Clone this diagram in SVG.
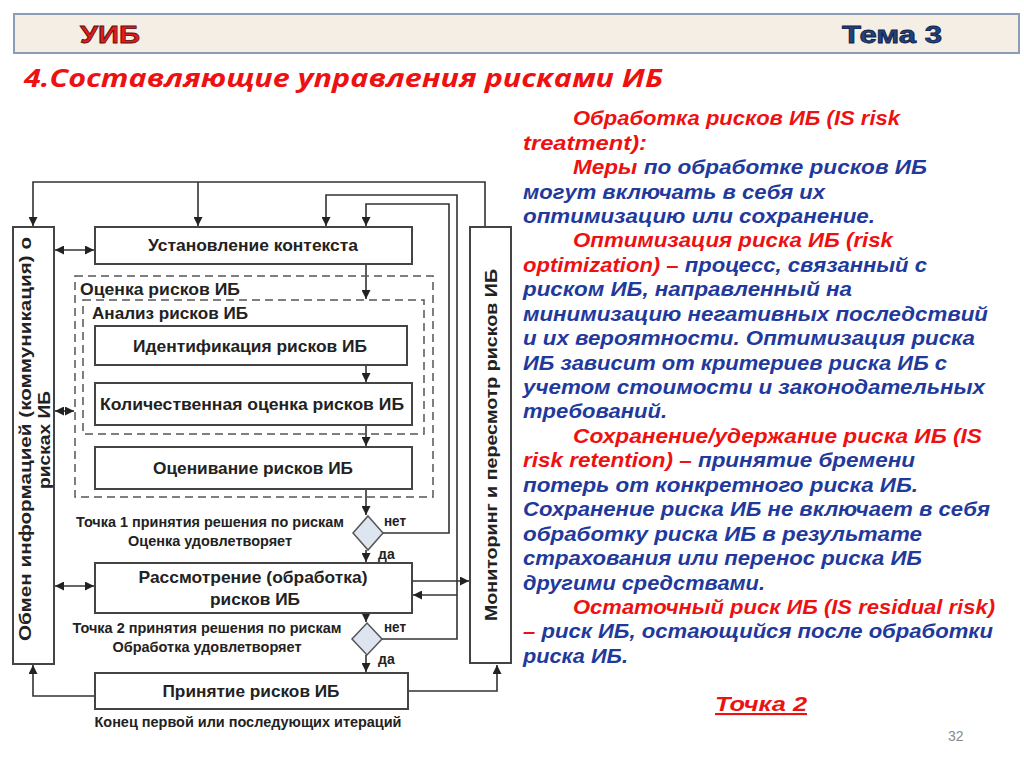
<svg xmlns="http://www.w3.org/2000/svg" width="1024" height="767" viewBox="0 0 1024 767">
<defs>
<marker id="ah" viewBox="0 0 10 10" refX="10" refY="5" markerWidth="10" markerHeight="9" markerUnits="userSpaceOnUse" orient="auto-start-reverse">
<path d="M0,0 L10,5 L0,10 z" fill="#222"/>
</marker>
<style>
.box{fill:#fff;stroke:#444;stroke-width:2}
.dash{fill:none;stroke:#555;stroke-width:1.5;stroke-dasharray:8 5}
.con{fill:none;stroke:#333;stroke-width:1.6}
.arr{marker-end:url(#ah)}
.dbl{marker-start:url(#ah);marker-end:url(#ah)}
.t{font-family:"Liberation Sans",Arial,sans-serif;font-weight:bold;fill:#222}
.t15{font-size:17px}
.t13{font-size:14px}
.dia{fill:#dde5f0;stroke:#555;stroke-width:1.5}
.r{font-family:"Liberation Sans",Arial,sans-serif;font-weight:bold;font-style:italic;font-size:21px}
.red{fill:#ee1111}
.blue{fill:#1f3a9c}
</style>
</defs>
<rect width="1024" height="767" fill="#fff"/>
<g id="header">
<rect x="14" y="14" width="1005" height="39" fill="#f5eee4" stroke="#8c9db8" stroke-width="2"/>
<text x="80" y="43" font-family="Liberation Sans,Arial,sans-serif" font-weight="bold" font-size="24" fill="#e31b1b" stroke="#5a1010" stroke-width="0.8" textLength="60" lengthAdjust="spacingAndGlyphs">УИБ</text>
<text x="842" y="43" font-family="Liberation Sans,Arial,sans-serif" font-weight="bold" font-size="24" fill="#25407a" stroke="#0d1f4a" stroke-width="0.8" textLength="100" lengthAdjust="spacingAndGlyphs">Тема 3</text>
</g>
<text id="title" x="24" y="87" font-family="Open Sans,Liberation Sans,sans-serif" font-weight="bold" font-style="italic" font-size="25" fill="#ee1111" textLength="639" lengthAdjust="spacingAndGlyphs">4.Составляющие управления рисками ИБ</text>

<g id="connectors">
<path class="con arr" d="M485,227 V182 H33 V226"/>
<path class="con arr" d="M198,182 V226"/>
<path class="con arr" d="M382,639 H457 V195 H326 V226"/>
<path class="con arr" d="M383,533 H449 V204 H366 V226"/>
<path class="con arr" d="M366,264 V299"/>
<path class="con arr" d="M366,365 V382"/>
<path class="con arr" d="M366,425 V446"/>
<path class="con arr" d="M366,489 V515"/>
<path class="con arr" d="M366,550 V562"/>
<path class="con arr" d="M366,613 V622"/>
<path class="con arr" d="M366,655 V672"/>
<path class="con arr" d="M412,581 H469"/>
<path class="con arr" d="M457,595 H413"/>
<path class="con arr" d="M408,691 H497 V665"/>
<path class="con arr" d="M95,696 H33 V665"/>
<path class="con dbl" d="M55,250 H94"/>
<path class="con dbl" d="M55,411 H74"/>
<path class="con dbl" d="M55,586 H94"/>
</g>

<g id="exchange">
<rect class="box" x="13" y="227" width="41" height="437"/>
<text class="t" font-size="17" transform="translate(31,439) rotate(-90)" text-anchor="middle" textLength="404" lengthAdjust="spacingAndGlyphs">Обмен информацией (коммуникация) о</text>
<text class="t" font-size="17" transform="translate(50,440) rotate(-90)" text-anchor="middle" textLength="98" lengthAdjust="spacingAndGlyphs">рисках ИБ</text>
</g>
<g id="monitoring">
<rect class="box" x="470" y="227" width="41" height="436"/>
<text class="t" font-size="17" transform="translate(497,445) rotate(-90)" text-anchor="middle" textLength="352" lengthAdjust="spacingAndGlyphs">Мониторинг и пересмотр рисков ИБ</text>
</g>
<g id="context">
<rect class="box" x="95" y="227" width="317" height="37"/>
<text class="t t15" x="253" y="251" text-anchor="middle" textLength="210" lengthAdjust="spacingAndGlyphs">Установление контекста</text>
</g>
<g id="assessment">
<rect class="dash" x="75" y="276" width="358" height="221"/>
<text class="t t15" x="80" y="295" textLength="160" lengthAdjust="spacingAndGlyphs">Оценка рисков ИБ</text>
</g>
<g id="analysis">
<rect class="dash" x="83" y="300" width="341" height="134"/>
<text class="t t15" x="92" y="319" textLength="156" lengthAdjust="spacingAndGlyphs">Анализ рисков ИБ</text>
</g>
<g id="identification">
<rect class="box" x="95" y="326" width="312" height="39"/>
<text class="t t15" x="250" y="352" text-anchor="middle" textLength="234" lengthAdjust="spacingAndGlyphs">Идентификация рисков ИБ</text>
</g>
<g id="quant">
<rect class="box" x="95" y="383" width="317" height="42"/>
<text class="t t15" x="252" y="410" text-anchor="middle" textLength="304" lengthAdjust="spacingAndGlyphs">Количественная оценка рисков ИБ</text>
</g>
<g id="evaluation">
<rect class="box" x="95" y="447" width="317" height="42"/>
<text class="t t15" x="253" y="474" text-anchor="middle" textLength="200" lengthAdjust="spacingAndGlyphs">Оценивание рисков ИБ</text>
</g>
<g id="decision1">
<polygon class="dia" points="368,516 383,533 368,550 353,533"/>
<text class="t t13" x="210" y="527" text-anchor="middle" textLength="268" lengthAdjust="spacingAndGlyphs">Точка 1 принятия решения по рискам</text>
<text class="t t13" x="210" y="546" text-anchor="middle" textLength="164" lengthAdjust="spacingAndGlyphs">Оценка удовлетворяет</text>
<text class="t t13" x="384" y="526" textLength="22" lengthAdjust="spacingAndGlyphs">нет</text>
<text class="t t13" x="378" y="559">да</text>
</g>
<g id="treatment">
<rect class="box" x="95" y="563" width="317" height="50"/>
<text class="t t15" x="253" y="583" text-anchor="middle" textLength="229" lengthAdjust="spacingAndGlyphs">Рассмотрение (обработка)</text>
<text class="t t15" x="255" y="605" text-anchor="middle" textLength="90" lengthAdjust="spacingAndGlyphs">рисков ИБ</text>
</g>
<g id="decision2">
<polygon class="dia" points="367,623 382,639 367,655 352,639"/>
<text class="t t13" x="207" y="633" text-anchor="middle" textLength="269" lengthAdjust="spacingAndGlyphs">Точка 2 принятия решения по рискам</text>
<text class="t t13" x="207" y="652" text-anchor="middle" textLength="189" lengthAdjust="spacingAndGlyphs">Обработка удовлетворяет</text>
<text class="t t13" x="384" y="632" textLength="22" lengthAdjust="spacingAndGlyphs">нет</text>
<text class="t t13" x="378" y="664">да</text>
</g>
<g id="acceptance">
<rect class="box" x="95" y="673" width="313" height="36"/>
<text class="t t15" x="251" y="697" text-anchor="middle" textLength="177" lengthAdjust="spacingAndGlyphs">Принятие рисков ИБ</text>
<text class="t t13" x="248" y="727" text-anchor="middle" textLength="307" lengthAdjust="spacingAndGlyphs">Конец первой или последующих итераций</text>
</g>

<g id="description">
<text class="r red" x="573" y="125" textLength="327" lengthAdjust="spacingAndGlyphs">Обработка рисков ИБ (IS risk</text>
<text class="r red" x="523" y="149.5" textLength="124" lengthAdjust="spacingAndGlyphs">treatment):</text>
<text class="r" x="573" y="174" textLength="354" lengthAdjust="spacingAndGlyphs"><tspan class="red">Меры</tspan><tspan class="blue"> по обработке рисков ИБ</tspan></text>
<text class="r blue" x="523" y="198.5" textLength="302" lengthAdjust="spacingAndGlyphs">могут включать в себя их</text>
<text class="r blue" x="523" y="222.8" textLength="352" lengthAdjust="spacingAndGlyphs">оптимизацию или сохранение.</text>
<text class="r red" x="573" y="247.3" textLength="320" lengthAdjust="spacingAndGlyphs">Оптимизация риска ИБ (risk</text>
<text class="r" x="523" y="271.7" textLength="404" lengthAdjust="spacingAndGlyphs"><tspan class="red">optimization) –</tspan><tspan class="blue"> процесс, связанный с</tspan></text>
<text class="r blue" x="523" y="296.2" textLength="329" lengthAdjust="spacingAndGlyphs">риском ИБ, направленный на</text>
<text class="r blue" x="523" y="320.6" textLength="465" lengthAdjust="spacingAndGlyphs">минимизацию негативных последствий</text>
<text class="r blue" x="523" y="345" textLength="452" lengthAdjust="spacingAndGlyphs">и их вероятности. Оптимизация риска</text>
<text class="r blue" x="523" y="369.5" textLength="424" lengthAdjust="spacingAndGlyphs">ИБ зависит от критериев риска ИБ с</text>
<text class="r blue" x="523" y="394" textLength="462" lengthAdjust="spacingAndGlyphs">учетом стоимости и законодательных</text>
<text class="r blue" x="523" y="418.4" textLength="144" lengthAdjust="spacingAndGlyphs">требований.</text>
<text class="r red" x="573" y="442.8" textLength="409" lengthAdjust="spacingAndGlyphs">Сохранение/удержание риска ИБ (IS</text>
<text class="r" x="523" y="467.3" textLength="392" lengthAdjust="spacingAndGlyphs"><tspan class="red">risk retention) –</tspan><tspan class="blue"> принятие бремени</tspan></text>
<text class="r blue" x="523" y="491.7" textLength="395" lengthAdjust="spacingAndGlyphs">потерь от конкретного риска ИБ.</text>
<text class="r blue" x="523" y="516.2" textLength="467" lengthAdjust="spacingAndGlyphs">Сохранение риска ИБ не включает в себя</text>
<text class="r blue" x="523" y="540.6" textLength="399" lengthAdjust="spacingAndGlyphs">обработку риска ИБ в результате</text>
<text class="r blue" x="523" y="565" textLength="399" lengthAdjust="spacingAndGlyphs">страхования или перенос риска ИБ</text>
<text class="r blue" x="523" y="589.5" textLength="242" lengthAdjust="spacingAndGlyphs">другими средствами.</text>
<text class="r red" x="573" y="614" textLength="422" lengthAdjust="spacingAndGlyphs">Остаточный риск ИБ (IS residual risk)</text>
<text class="r" x="523" y="638.4" textLength="470" lengthAdjust="spacingAndGlyphs"><tspan class="red">–</tspan><tspan class="blue"> риск ИБ, остающийся после обработки</tspan></text>
<text class="r blue" x="523" y="662.8" textLength="105" lengthAdjust="spacingAndGlyphs">риска ИБ.</text>
<text class="r red" x="715" y="711" font-size="22" textLength="92" lengthAdjust="spacingAndGlyphs" text-decoration="underline">Точка 2</text>
<text x="948" y="741" font-family="Liberation Sans,Arial,sans-serif" font-size="14" fill="#8a8a8a">32</text>
</g>
</svg>
